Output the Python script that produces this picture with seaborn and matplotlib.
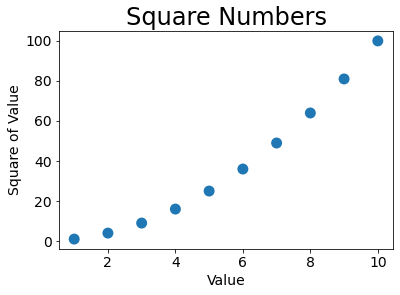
import matplotlib
matplotlib.use("Agg")
import matplotlib.pyplot as plt
import seaborn as sns
import pandas as pd

values = [1, 2, 3, 4, 5, 6, 7, 8, 9, 10]
squares = [1, 4, 9, 16, 25, 36, 49, 64, 81, 100]

df = pd.DataFrame({"Value": values, "Square of Value": squares})

sns.set_style("ticks")
plt.rcParams['font.family'] = ['DejaVu Sans']
plt.rcParams['text.color'] = 'black'
plt.rcParams['axes.labelcolor'] = 'black'
plt.rcParams['xtick.color'] = 'black'
plt.rcParams['ytick.color'] = 'black'

DPI = 72
fig = plt.figure(figsize=(400/DPI, 295/DPI), dpi=DPI)
ax = fig.add_axes([59/400, (295-249)/295, (393-59)/400, (249-31)/295])
sns.scatterplot(data=df, x="Value", y="Square of Value", s=120, color="#1f77b4",
                edgecolor="none", ax=ax)
ax.set_title("Square Numbers", fontsize=24)
ax.set_xlabel("Value", fontsize=14)
ax.set_ylabel("Square of Value", fontsize=14)
ax.tick_params(axis='both', labelsize=14, length=3.5, width=0.8)
ax.set_xticks([2, 4, 6, 8, 10])
ax.set_yticks([0, 20, 40, 60, 80, 100])
for s in ax.spines.values():
    s.set_visible(True)
    s.set_color("black")
    s.set_linewidth(0.8)
fig.savefig("out.png", dpi=DPI)
